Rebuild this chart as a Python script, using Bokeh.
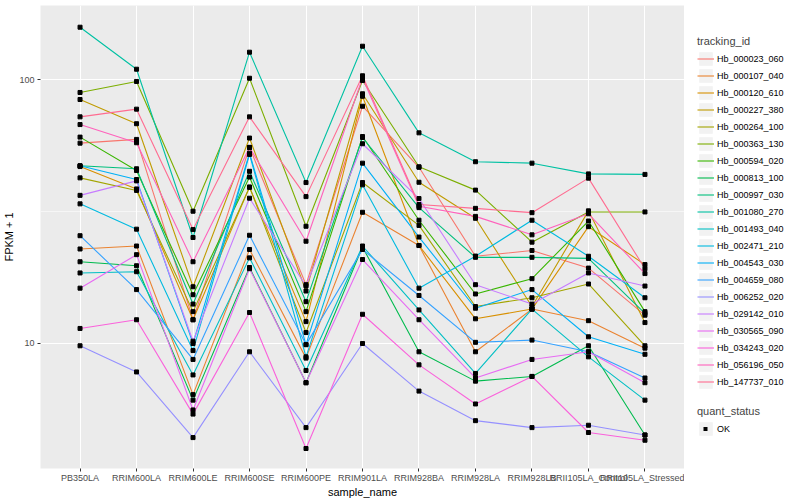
from bokeh.plotting import figure
from bokeh.layouts import row
from bokeh.models import (FactorRange, Range1d, FixedTicker, Legend, LegendItem,
                          PrintfTickFormatter)
from bokeh.embed import file_html
from bokeh.resources import INLINE

samples = ["PB350LA", "RRIM600LA", "RRIM600LE", "RRIM600SE", "RRIM600PE",
           "RRIM901LA", "RRIM928BA", "RRIM928LA", "RRIM928LB",
           "RRII105LA_Control", "RRII105LA_Stressed"]

tracking_ids = ["Hb_000023_060", "Hb_000107_040", "Hb_000120_610", "Hb_000227_380",
                "Hb_000264_100", "Hb_000363_130", "Hb_000594_020", "Hb_000813_100",
                "Hb_000997_030", "Hb_001080_270", "Hb_001493_040", "Hb_002471_210",
                "Hb_004543_030", "Hb_004659_080", "Hb_006252_020", "Hb_029142_010",
                "Hb_030565_090", "Hb_034243_020", "Hb_056196_050", "Hb_147737_010"]

# FPKM + 1 per sample (same order as samples)
hb_000023_060 = [57.4, 59.3, 12.3, 55.3, 16.7, 79.2, 46.5, 21.4, 22.5, 19.3, 12.8]
hb_000107_040 = [22.8, 23.4, 6.4, 22.7, 8.8, 31.4, 23.5, 9.3, 13.5, 12.2, 9.6]
hb_000120_610 = [46.8, 38.5, 12.3, 39.1, 12.1, 86.4, 23.5, 12.4, 13.5, 27.7, 19.9]
hb_000227_380 = [84.0, 68.0, 16.4, 60.0, 15.8, 88.3, 40.8, 29.8, 13.8, 31.8, 12.0]
hb_000264_100 = [42.4, 38.0, 13.2, 39.1, 11.0, 40.7, 28.0, 13.8, 14.9, 16.8, 9.8]
hb_000363_130 = [89.3, 98.3, 31.7, 101.1, 27.8, 99.1, 46.7, 38.1, 24.2, 31.5, 31.5]
hb_000594_020 = [60.5, 45.2, 15.3, 42.7, 13.2, 60.8, 29.3, 15.4, 17.6, 29.1, 13.2]
hb_000813_100 = [20.4, 19.7, 6.1, 19.4, 7.1, 23.2, 9.3, 7.2, 7.5, 9.8, 4.5]
hb_000997_030 = [47.1, 45.9, 14.1, 44.9, 14.4, 60.3, 32.7, 21.2, 21.2, 21.0, 13.0]
hb_001080_270 = [157.8, 109.4, 25.2, 126.9, 40.7, 133.7, 62.8, 48.8, 48.2, 43.9, 43.7]
hb_001493_040 = [18.5, 18.7, 7.6, 21.1, 7.9, 23.4, 13.4, 7.7, 13.5, 8.9, 6.1]
hb_002471_210 = [33.8, 27.1, 9.4, 52.0, 8.9, 39.9, 16.2, 21.4, 29.3, 21.4, 14.9]
hb_004543_030 = [47.1, 41.8, 10.0, 52.6, 9.9, 48.2, 25.3, 13.6, 16.0, 10.6, 9.1]
hb_004659_080 = [25.6, 16.0, 8.7, 25.7, 9.9, 22.7, 15.2, 10.1, 10.3, 9.3, 7.4]
hb_006252_020 = [9.8, 7.8, 4.4, 9.3, 4.8, 10.0, 6.6, 5.1, 4.8, 4.9, 4.5]
hb_029142_010 = [36.4, 41.3, 10.2, 35.5, 16.5, 57.1, 35.4, 16.7, 14.1, 18.5, 16.5]
hb_030565_090 = [16.2, 21.7, 5.6, 19.2, 7.1, 20.8, 12.3, 7.4, 8.7, 9.3, 7.1]
hb_034243_020 = [11.4, 12.3, 5.4, 13.1, 4.0, 12.9, 8.3, 5.9, 7.5, 4.6, 4.3]
hb_056196_050 = [67.5, 57.6, 20.4, 55.3, 24.4, 101.3, 33.1, 30.3, 25.8, 31.0, 18.4]
hb_147737_010 = [72.2, 77.2, 27.0, 72.2, 36.0, 103.3, 33.6, 32.5, 31.3, 42.3, 19.2]

series_values = [hb_000023_060, hb_000107_040, hb_000120_610, hb_000227_380,
                 hb_000264_100, hb_000363_130, hb_000594_020, hb_000813_100,
                 hb_000997_030, hb_001080_270, hb_001493_040, hb_002471_210,
                 hb_004543_030, hb_004659_080, hb_006252_020, hb_029142_010,
                 hb_030565_090, hb_034243_020, hb_056196_050, hb_147737_010]

colors = ["#F8766D", "#EA8331", "#D89000", "#C09B00", "#A3A500", "#7CAE00",
          "#39B600", "#00BB4E", "#00BF7D", "#00C1A3", "#00BFC4", "#00BAE0",
          "#00B0F6", "#35A2FF", "#9590FF", "#C77CFF", "#E76BF3", "#FA62DB",
          "#FF62BC", "#FF6C91"]

quant_status = ["OK"]
y_major = [10, 100]
y_minor = [10 ** 1.5]

FONT = "Liberation Sans"

# ---------------- main plot ----------------
p = figure(width=684, height=500,
           x_range=FactorRange(factors=samples, range_padding=0.2,
                               range_padding_units="absolute"),
           y_range=Range1d(3.36, 190.7), y_axis_type="log",
           output_backend="svg", toolbar_location=None,
           min_border_left=0, min_border_right=0,
           min_border_top=5, min_border_bottom=0)

p.background_fill_color = "#EBEBEB"
p.border_fill_color = "white"
p.outline_line_color = None

p.xgrid.grid_line_color = "white"
p.xgrid.grid_line_width = 1.1
p.ygrid.grid_line_color = "white"
p.ygrid.grid_line_width = 1.1
p.ygrid.minor_grid_line_color = "white"
p.ygrid.minor_grid_line_width = 0.55

p.yaxis.ticker = FixedTicker(ticks=y_major, minor_ticks=y_minor)
p.yaxis.formatter = PrintfTickFormatter(format="%d")

p.xaxis.axis_label = "sample_name"
p.yaxis.axis_label = "FPKM + 1"

for ax in (p.xaxis[0], p.yaxis[0]):
    ax.axis_line_color = None
    ax.major_tick_line_color = "#333333"
    ax.major_tick_out = 3
    ax.major_tick_in = 0
    ax.minor_tick_line_color = None
    ax.major_label_text_font = FONT
    ax.major_label_text_font_size = "9px"
    ax.major_label_text_color = "#4D4D4D"
    ax.major_label_standoff = 2
    ax.axis_label_text_font = FONT
    ax.axis_label_text_font_size = "11px"
    ax.axis_label_text_font_style = "normal"
    ax.axis_label_text_color = "black"
p.xaxis.axis_label_standoff = 0
p.xaxis.major_label_standoff = 1
p.yaxis.axis_label_standoff = 1

for vals, col in zip(series_values, colors):
    p.line(x=samples, y=vals, line_color=col, line_width=1.1)

for vals in series_values:
    p.scatter(x=samples, y=vals, marker="square", size=4,
              fill_color="black", line_color="black")

# ---------------- legend panel ----------------
lg = figure(width=116, height=500,
            x_range=FactorRange(factors=samples), y_range=Range1d(1, 200),
            y_axis_type="log", output_backend="svg", toolbar_location=None,
            x_axis_location=None, y_axis_location=None,
            min_border_left=0, min_border_right=0,
            min_border_top=0, min_border_bottom=0)
lg.outline_line_color = None
lg.background_fill_color = "white"
lg.grid.visible = False

key_bg = lg.rect(x=[samples[0]], y=[series_values[0][0]], width=0, height=0,
                 fill_color="#F2F2F2", line_color=None, visible=False)

items = []
for tid, vals, col in zip(tracking_ids, series_values, colors):
    r = lg.line(x=samples, y=vals, line_color=col, line_width=1.1, visible=False)
    items.append(LegendItem(label=tid, renderers=[key_bg, r]))

# small black square key drawn as a short thick dash in the key centre
pt_key = lg.line(x=samples, y=series_values[0], line_color="black", line_width=4,
                 line_dash="4 13", line_dash_offset=11, visible=False)

common = dict(padding=0, margin=0, spacing=0, glyph_width=17, glyph_height=17,
              label_height=17, label_standoff=3,
              label_text_font=FONT, label_text_font_size="9px",
              label_text_color="black",
              title_text_font=FONT, title_text_font_size="11px",
              title_text_font_style="normal", title_standoff=3,
              background_fill_alpha=0, border_line_color=None,
              inactive_fill_alpha=0)

legend1 = Legend(items=items, title="tracking_id", location=(13, 78), **common)
lg.add_layout(legend1)

legend2 = Legend(items=[LegendItem(label=quant_status[0], renderers=[key_bg, pt_key])],
                 title="quant_status", location=(13, 31), **common)
lg.add_layout(legend2)

layout = row(p, lg, spacing=0)
open("out.html", "w").write(file_html(layout, INLINE))
